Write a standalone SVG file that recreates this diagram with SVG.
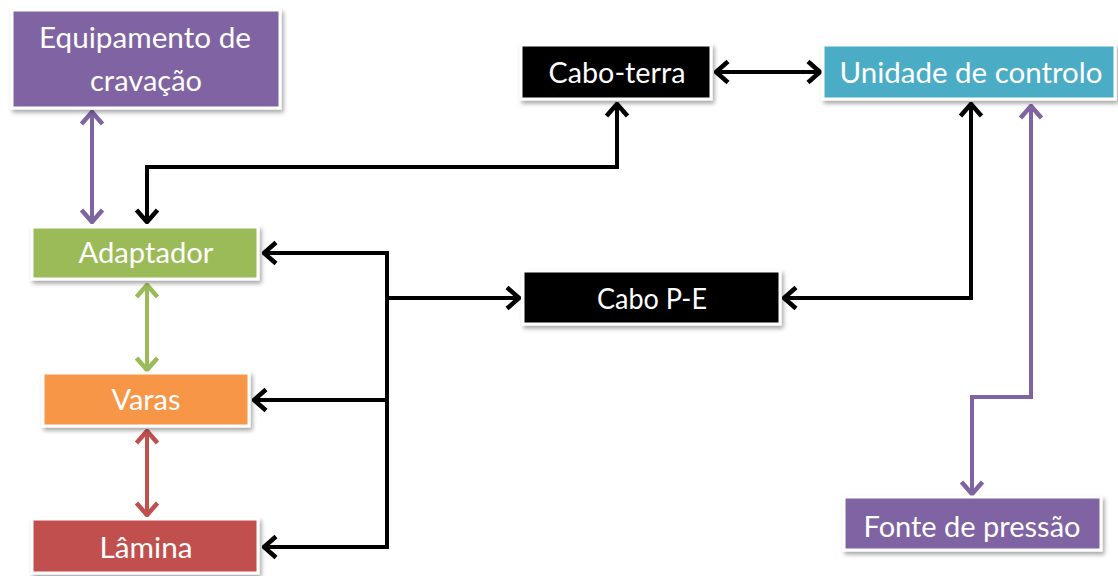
<svg xmlns="http://www.w3.org/2000/svg" width="1118" height="576" viewBox="0 0 1118 576">
  <style>
    .box { stroke: #ffffff; stroke-width: 3; filter: url(#shadow); }
    .lbl { font-family: Lato, "Liberation Sans", sans-serif; font-size: 29px; fill: #ffffff; text-anchor: middle; }
    .wire { fill: none; stroke-width: 4; stroke-linejoin: miter; }
    .k { stroke: #000000; marker-start: url(#hk); marker-end: url(#hk); }
    .kend { stroke: #000000; marker-end: url(#hk); }
    .p { stroke: #8064A2; marker-start: url(#hp); marker-end: url(#hp); }
    .g { stroke: #9BBB59; marker-start: url(#hg); marker-end: url(#hg); }
    .r { stroke: #C0504D; marker-start: url(#hr); marker-end: url(#hr); }
  </style>
  <defs>
    <filter id="shadow" x="-10%" y="-20%" width="125%" height="150%">
      <feDropShadow dx="2" dy="3" stdDeviation="2" flood-color="#000000" flood-opacity="0.35"/>
    </filter>
    <marker id="hk" viewBox="0 0 16 26" refX="14" refY="13" markerWidth="16" markerHeight="26" markerUnits="userSpaceOnUse" orient="auto-start-reverse">
      <path d="M2,2.5 L14,13 L2,23.5" fill="none" stroke="#000000" stroke-width="4.5"/>
    </marker>
    <marker id="hp" viewBox="0 0 16 26" refX="14" refY="13" markerWidth="16" markerHeight="26" markerUnits="userSpaceOnUse" orient="auto-start-reverse">
      <path d="M2,2.5 L14,13 L2,23.5" fill="none" stroke="#8064A2" stroke-width="4.5"/>
    </marker>
    <marker id="hg" viewBox="0 0 16 26" refX="14" refY="13" markerWidth="16" markerHeight="26" markerUnits="userSpaceOnUse" orient="auto-start-reverse">
      <path d="M2,2.5 L14,13 L2,23.5" fill="none" stroke="#9BBB59" stroke-width="4.5"/>
    </marker>
    <marker id="hr" viewBox="0 0 16 26" refX="14" refY="13" markerWidth="16" markerHeight="26" markerUnits="userSpaceOnUse" orient="auto-start-reverse">
      <path d="M2,2.5 L14,13 L2,23.5" fill="none" stroke="#C0504D" stroke-width="4.5"/>
    </marker>
  </defs>

  <rect width="1118" height="576" fill="#ffffff"/>

  <!-- connectors -->
  <g id="connectors">
    <path class="wire p" d="M92,112 V222"/>
    <path class="wire k" d="M147,222 V167 H617 V104"/>
    <path class="wire k" d="M716,72 H820"/>
    <path class="wire k" d="M971,104 V298 H784"/>
    <path class="wire p" d="M1031,106 V397 H972 V494"/>
    <path class="wire k" d="M264,253 H387 V547 H264"/>
    <path class="wire kend" d="M387,400 H254"/>
    <path class="wire kend" d="M387,298 H519"/>
    <path class="wire g" d="M147,285 V370"/>
    <path class="wire r" d="M147,431 V515"/>
  </g>

  <!-- nodes -->
  <g id="equipamento">
    <rect class="box" x="12" y="10" width="268" height="98" fill="#8064A2"/>
    <text class="lbl" x="145" y="48" textLength="212" lengthAdjust="spacingAndGlyphs">Equipamento de</text>
    <text class="lbl" x="146" y="91" textLength="112" lengthAdjust="spacingAndGlyphs">cravação</text>
  </g>
  <g id="cabo-terra">
    <rect class="box" x="521" y="45" width="190" height="54" fill="#000000"/>
    <text class="lbl" x="617" y="83" textLength="137" lengthAdjust="spacingAndGlyphs">Cabo-terra</text>
  </g>
  <g id="unidade">
    <rect class="box" x="823" y="45" width="292" height="54" fill="#4BACC6"/>
    <text class="lbl" x="971" y="83" textLength="263" lengthAdjust="spacingAndGlyphs">Unidade de controlo</text>
  </g>
  <g id="adaptador">
    <rect class="box" x="32" y="227" width="226" height="52" fill="#9BBB59"/>
    <text class="lbl" x="146" y="263" textLength="135" lengthAdjust="spacingAndGlyphs">Adaptador</text>
  </g>
  <g id="varas">
    <rect class="box" x="43" y="373" width="206" height="53" fill="#F79646"/>
    <text class="lbl" x="146" y="410" textLength="69" lengthAdjust="spacingAndGlyphs">Varas</text>
  </g>
  <g id="lamina">
    <rect class="box" x="32" y="519" width="226" height="54" fill="#C0504D"/>
    <text class="lbl" x="146" y="558" textLength="93" lengthAdjust="spacingAndGlyphs">Lâmina</text>
  </g>
  <g id="cabo-pe">
    <rect class="box" x="523" y="271" width="257" height="53" fill="#000000"/>
    <text class="lbl" x="652" y="309" textLength="110" lengthAdjust="spacingAndGlyphs">Cabo P-E</text>
  </g>
  <g id="fonte">
    <rect class="box" x="844" y="497" width="257" height="53" fill="#8064A2"/>
    <text class="lbl" x="972" y="537" textLength="217" lengthAdjust="spacingAndGlyphs">Fonte de pressão</text>
  </g>
</svg>
